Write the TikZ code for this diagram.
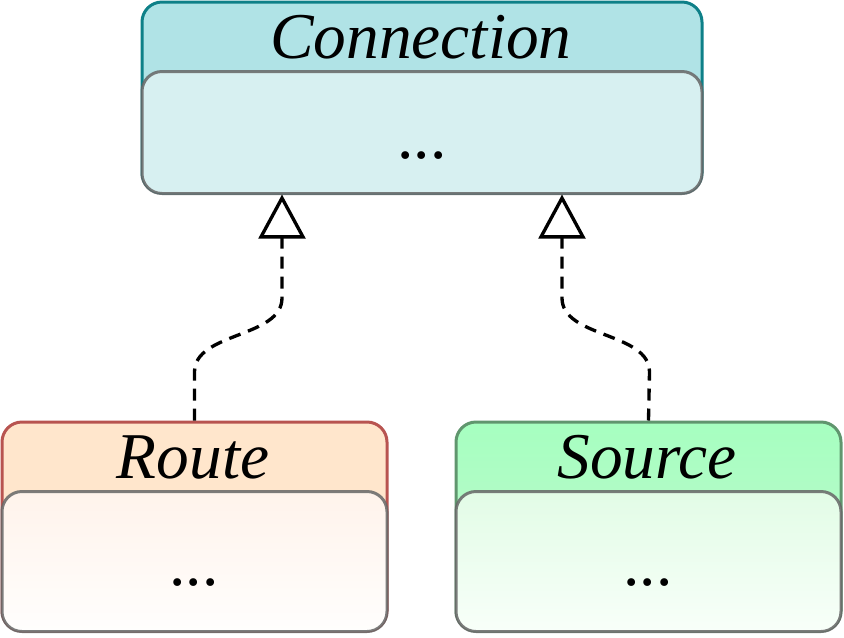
\documentclass[tikz,border=0pt]{standalone}
\usepackage{fontspec}
\setmainfont{Liberation Serif}
\usetikzlibrary{arrows.meta,calc}

\definecolor{connfill}{RGB}{176,227,230}
\definecolor{connline}{RGB}{14,128,136}
\definecolor{connbody}{RGB}{215,240,241}
\definecolor{routefill}{RGB}{255,230,204}
\definecolor{routeline}{RGB}{184,84,80}
\definecolor{srctop}{RGB}{166,255,192}
\definecolor{srcbot}{RGB}{196,246,208}
\definecolor{srcline}{RGB}{96,150,110}

\tikzset{every picture/.style={line width=0.75pt},
  classbox/.style={draw, rounded corners=15pt, line width=2.25pt, inner sep=0pt},
  compart/.style={draw=black!60, draw opacity=0.85, rounded corners=15pt, line width=2.25pt, inner sep=0pt},
  classname/.style={anchor=base, inner sep=0pt, font=\fontsize{49}{58}\selectfont\itshape},
  members/.style={anchor=base, inner sep=0pt, font=\fontsize{49}{58}\selectfont},
  realizes/.style={line width=2.5pt, dash pattern=on 9pt off 6pt,
    -{Triangle[open,length=33pt,width=35pt,line join=miter]}}
}

\begin{document}
\begin{tikzpicture}[x=0.75pt,y=0.75pt,yscale=-1,xscale=1]
\useasboundingbox (0,0) rectangle (844,637);

%Shape: Class Connection
\node [classbox, draw=connline, fill=connfill, minimum width=420pt, minimum height=143.25pt] (conn) at (422,97.5) {};
\node [compart, fill=connbody, minimum width=420pt, minimum height=91.5pt] (connbody) at (422,132.5) {};
%Shape: Class Route
\node [classbox, draw=routeline, fill=routefill, minimum width=288.75pt, minimum height=156.75pt] (route) at (194.5,526.5) {};
\node [compart, top color={rgb,255:red,255;green,243;blue,235}, bottom color={rgb,255:red,255;green,254;blue,253}, minimum width=288.75pt, minimum height=105pt] (routebody) at (194.5,561.5) {};
%Shape: Class Source
\node [classbox, draw=srcline, top color=srctop, bottom color=srcbot, minimum width=288.75pt, minimum height=156.75pt] (src) at (648.5,526.5) {};
\node [compart, top color={rgb,255:red,226;green,252;blue,230}, bottom color={rgb,255:red,248;green,255;blue,249}, minimum width=288.75pt, minimum height=105pt] (srcbody) at (648.5,561.5) {};

% Text Node
\node [classname] (conntitle) at (421,58) {Connection};
\node [members] (connmembers) at (422,158) {...};
\node [classname] (routetitle) at (193,478) {Route};
\node [members] (routemembers) at (194,585) {...};
\node [classname] (srctitle) at (647,478) {Source};
\node [members] (srcmembers) at (648,585) {...};

%Connectors
\draw [realizes] (route.north) -- (194.5,372) .. controls (194.5,332) and (282,338) .. (282,298) -- ($(conn.south)+(-140,0)$);
\draw [realizes] (src.north) -- (649.5,372) .. controls (649.5,332) and (562,338) .. (562,298) -- ($(conn.south)+(140,0)$);

\end{tikzpicture}
\end{document}
